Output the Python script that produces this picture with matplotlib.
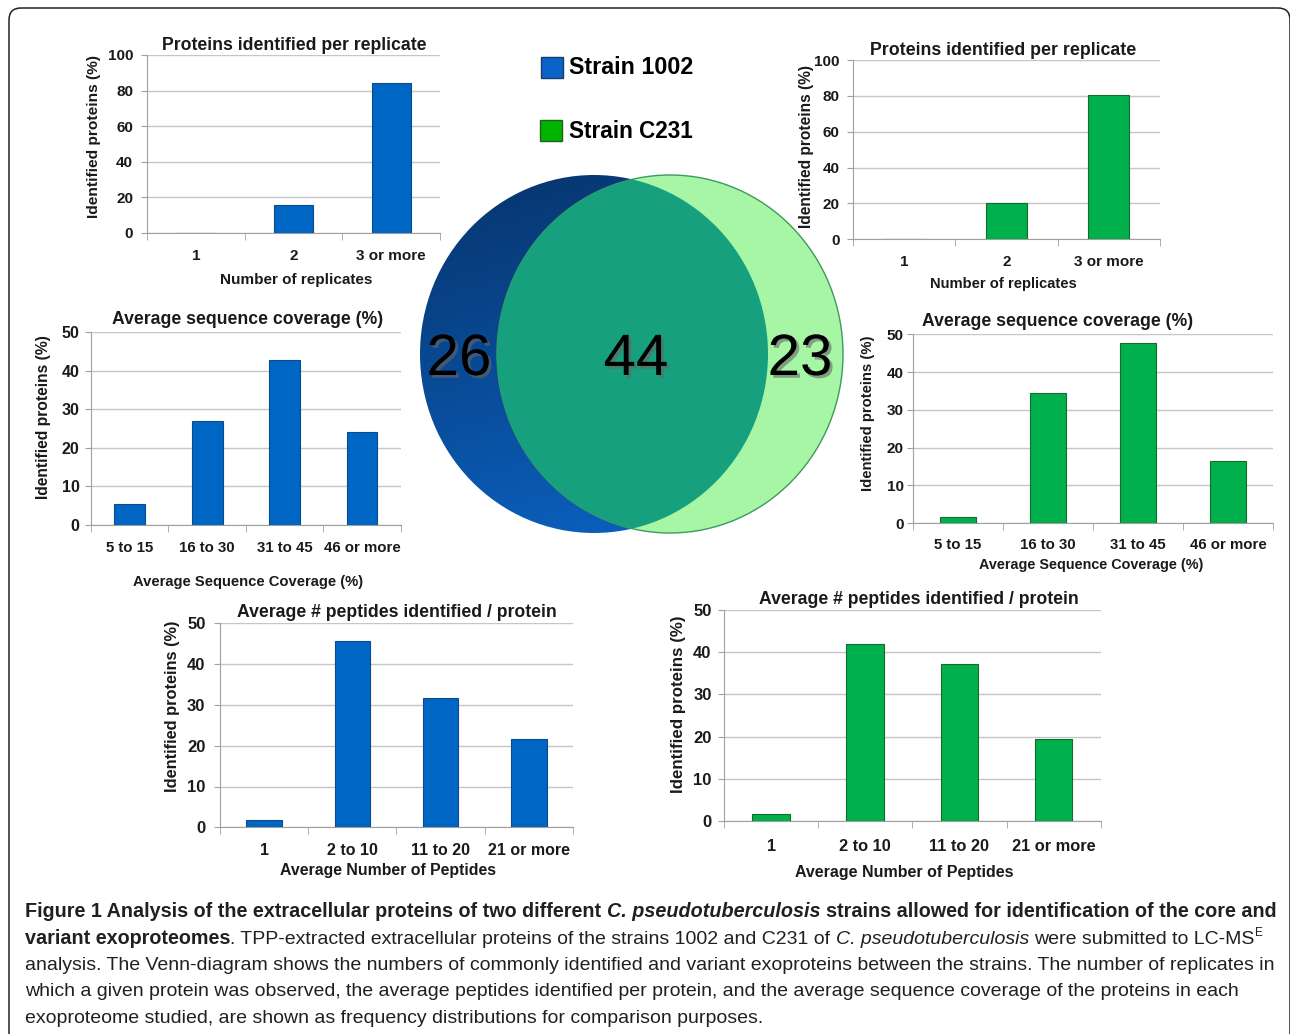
import matplotlib
matplotlib.use('Agg')
import matplotlib.pyplot as plt
import matplotlib.patheffects as pe
import matplotlib.colors as mcolors
from matplotlib.patches import Ellipse, Rectangle, FancyBboxPatch
import numpy as np

plt.rcParams['font.family'] = ['Liberation Sans', 'DejaVu Sans']

# ---- data ----
rep_labels = ['1', '2', '3 or more']
rep_1002 = [0, 15.6, 84.4]
rep_c231 = [0, 20.0, 80.5]

cov_labels = ['5 to 15', '16 to 30', '31 to 45', '46 or more']
cov_1002 = [5.5, 27.0, 42.8, 24.2]
cov_c231 = [1.7, 34.4, 47.8, 16.6]

pep_labels = ['1', '2 to 10', '11 to 20', '21 or more']
pep_1002 = [1.8, 45.7, 31.6, 21.6]
pep_c231 = [1.6, 41.9, 37.3, 19.4]

venn_counts = [26, 44, 23]   # only 1002, shared, only C231
strains = ['Strain 1002', 'Strain C231']

BLUE, BLUE_EDGE = '#0066c4', '#0b4a8e'
GREEN, GREEN_EDGE = '#00b04c', '#17692e'
TXT = '#1a1a1a'

W, H = 1290, 1034
fig = plt.figure(figsize=(W / 100, H / 100), dpi=100)
fig.patch.set_facecolor('white')

# background axes in pixel units (y down)
bg = fig.add_axes([0, 0, 1, 1])
bg.set_xlim(0, W)
bg.set_ylim(H, 0)
bg.axis('off')
renderer = fig.canvas.get_renderer()


def fit_text(x, y, s, width, rotation=0, **kw):
    t = bg.text(x, y, s, fontsize=10, ha='center', va='center', color=TXT, **kw)
    w = t.get_window_extent(renderer).width
    t.set_fontsize(10 * width / w)
    t.set_rotation(rotation)
    return t


# frame
frame = FancyBboxPatch((9, 8), 1281, 1060, boxstyle='round,pad=0,rounding_size=12',
                       facecolor='none', edgecolor='#222222', lw=1.1, zorder=1)
bg.add_patch(frame)


def panel(box, labels, values, color, edge, ymax, ystep, xsize, ysize, xpad, ypad):
    l, t, r, b = box
    ax = fig.add_axes([l / W, 1 - b / H, (r - l) / W, (b - t) / H])
    ax.set_facecolor('none')
    x = np.arange(len(labels))
    ax.bar(x, values, width=0.4, color=color, edgecolor=edge, linewidth=0.8, zorder=3)
    ax.set_xlim(-0.5, len(labels) - 0.5)
    ax.set_ylim(0, ymax)
    ax.set_yticks(np.arange(0, ymax + 1, ystep))
    ax.yaxis.grid(True, color='#c6c6c6', lw=1)
    ax.set_axisbelow(True)
    ax.set_xticks(x, labels)
    ax.set_xticks(np.arange(len(labels) + 1) - 0.5, minor=True)
    ax.tick_params(axis='x', which='major', length=0, pad=xpad, labelsize=xsize, labelcolor=TXT)
    ax.tick_params(axis='x', which='minor', length=5, color='#a0a0a0', direction='out')
    ax.tick_params(axis='y', length=4, color='#a0a0a0', pad=ypad, labelsize=ysize, labelcolor=TXT)
    for s in ['top', 'right']:
        ax.spines[s].set_visible(False)
    for s in ['left', 'bottom']:
        ax.spines[s].set_color('#a0a0a0')
    for lab in ax.get_xticklabels() + ax.get_yticklabels():
        lab.set_fontweight('bold')
    return ax


panel((147, 55, 440, 232.7), rep_labels, rep_1002, BLUE, BLUE_EDGE, 100, 20, 11, 11, 12, 6)
panel((853, 60, 1160, 239.3), rep_labels, rep_c231, GREEN, GREEN_EDGE, 100, 20, 11, 11, 11, 5.8)
panel((91, 332.3, 400.7, 525), cov_labels, cov_1002, BLUE, BLUE_EDGE, 50, 10, 10.8, 11.5, 11.8, 4.3)
panel((913, 334.3, 1273, 523.3), cov_labels, cov_c231, GREEN, GREEN_EDGE, 50, 10, 10.8, 11, 10.6, 2.5)
panel((220, 623.3, 573, 827.3), pep_labels, pep_1002, BLUE, BLUE_EDGE, 50, 10, 11.5, 12, 11.6, 6.5)
panel((724, 610, 1100.7, 821), pep_labels, pep_c231, GREEN, GREEN_EDGE, 50, 10, 11.8, 12, 13.2, 5)

# titles, axis labels
t_rep = 'Proteins identified per replicate'
t_cov = 'Average sequence coverage (%)'
t_pep = 'Average # peptides identified / protein'
for x, y, s, w in [(294, 45.7, t_rep, 265), (1003, 50.7, t_rep, 267),
                   (248, 320, t_cov, 270), (1058, 321.7, t_cov, 270),
                   (396.7, 612.7, t_pep, 320), (918.8, 600, t_pep, 321)]:
    fit_text(x, y, s, w, fontweight='bold')

x_rep = 'Number of replicates'
x_cov = 'Average Sequence Coverage (%)'
x_pep = 'Average Number of Peptides'
for x, y, s, w in [(296, 280, x_rep, 152), (1003, 284, x_rep, 147),
                   (248, 581.7, x_cov, 230), (1091, 565, x_cov, 225),
                   (388, 870, x_pep, 217), (904, 873, x_pep, 218)]:
    fit_text(x, y, s, w, fontweight='bold')

y_lab = 'Identified proteins (%)'
for x, y, w in [(94, 136.7, 163), (807, 146, 164), (43.3, 417.5, 165),
                (868, 413, 157), (172.7, 706, 172), (678, 704, 178)]:
    fit_text(x, y, y_lab, w, rotation=90, fontweight='bold')

# ---- Venn diagram ----
blue_c = Ellipse((594, 354), 348, 358, facecolor='none', edgecolor='none', zorder=2)
bg.add_patch(blue_c)
yy, xx = np.mgrid[0:1:200j, 0:1:200j]
tt = np.clip(0.8 * yy + 0.2 * xx, 0, 1)
c0 = np.array(mcolors.to_rgb('#07346c'))
c1 = np.array(mcolors.to_rgb('#0b63c4'))
img = c0 + (c1 - c0) * tt[..., None]
im = bg.imshow(img, extent=(420, 768, 533, 175), aspect='auto', zorder=2, interpolation='bilinear')
im.set_clip_path(blue_c)

green_c = Ellipse((670, 354), 346, 358, facecolor='#a6f6a6', edgecolor='#3d9a5c', lw=1, zorder=3)
bg.add_patch(green_c)
inter = Ellipse((670, 354), 346, 358, facecolor='#17a07e', edgecolor='none', zorder=4)
bg.add_patch(inter)
inter.set_clip_path(blue_c)
bg.set_xlim(0, W)
bg.set_ylim(H, 0)

shadow = [pe.withSimplePatchShadow(offset=(2, -2), shadow_rgbFace='#666666', alpha=0.6)]
for x, n in zip([459, 636, 800], venn_counts):
    bg.text(x, 360, str(n), fontsize=42, ha='center', va='center', color='black',
            path_effects=shadow, zorder=6)

# legend
bg.add_patch(Rectangle((541, 57), 22, 21, facecolor='#0a64c8', edgecolor='#1b3b6b', lw=1, zorder=5))
bg.add_patch(Rectangle((540, 120), 22, 21, facecolor='#00b400', edgecolor='#1f5f1f', lw=1, zorder=5))
for y, s in [(68, strains[0]), (131, strains[1])]:
    t = fit_text(569, y, s, 124, fontweight='bold')
    t.set_ha('left')
    t.set_color('black')

# ---- caption ----
cap_font = ['Liberation Sans', 'DejaVu Sans']
R = ('normal', 'normal', 1.0)
B = ('bold', 'normal', 1.0)
I = ('normal', 'italic', 1.0)
BI = ('bold', 'italic', 1.0)
SUP = ('normal', 'normal', 0.6)

line1 = [('Figure 1 Analysis of the extracellular proteins of two different ', B),
         ('C. pseudotuberculosis', BI),
         (' strains allowed for identification of the core and', B)]
line2 = [('variant exoproteomes', B),
         ('. TPP-extracted extracellular proteins of the strains 1002 and C231 of ', R),
         ('C. pseudotuberculosis', I),
         (' were submitted to LC-MS', R),
         ('E', SUP)]
line3 = [('analysis. The Venn-diagram shows the numbers of commonly identified and variant '
          'exoproteins between the strains. The number of replicates in', R)]
line4 = [('which a given protein was observed, the average peptides identified per protein, '
          'and the average sequence coverage of the proteins in each', R)]
line5 = [('exoproteome studied, are shown as frequency distributions for comparison purposes.', R)]


def text_w(s, size, weight, style):
    t = bg.text(0, 0, s, fontsize=size, fontweight=weight, fontstyle=style, family=cap_font)
    w = t.get_window_extent(renderer).width
    t.remove()
    return w


def runs(x, y, items, size_b, size_r, draw=True):
    for s, (weight, style, scale) in items:
        size = (size_b if weight == 'bold' else size_r) * scale
        sp = text_w('a a', size, weight, style) - text_w('aa', size, weight, style)
        core = s.strip(' ')
        lead = len(s) - len(s.lstrip(' '))
        trail = len(s) - len(s.rstrip(' '))
        x += lead * sp
        if core:
            dy = -8 if scale < 1 else 0
            if draw:
                bg.text(x, y + dy, core, fontsize=size, fontweight=weight, fontstyle=style,
                        family=cap_font, color='#231f20', ha='left', va='baseline')
            x += text_w(core, size, weight, style)
        x += trail * sp
    return x


base = 14
size_b = base * 1253 / (runs(0, 0, line1, base, base, draw=False))
size_r = base * 1253 / (runs(0, 0, line3, base, base, draw=False))
for y, line in zip([917, 943.5, 970, 996.5, 1023], [line1, line2, line3, line4, line5]):
    runs(25, y, line, size_b, size_r)

fig.savefig('out.png', dpi=100)
